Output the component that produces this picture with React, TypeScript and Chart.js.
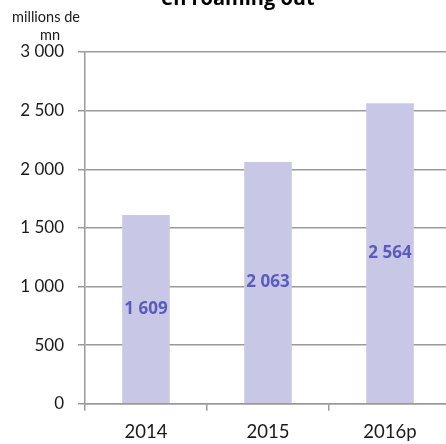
import React, { useEffect, useRef } from "react";
import { Chart, registerables } from "chart.js";

Chart.register(...registerables);

const categories = ["2014", "2015", "2016p"];
const values = [1609, 2063, 2564];
const yMin = 0;
const yMax = 3000;
const yStep = 500;
const titleText = "en roaming out";
const yTitleLines = ["millions de", "mn"];

const fmt = (v: number) => String(v).replace(/\B(?=(\d{3})+(?!\d))/g, " ");

const FONT = "Lato, 'Open Sans', sans-serif";
const BOLD_FONT = "'Open Sans', sans-serif";

export default function App() {
  const ref = useRef<HTMLCanvasElement | null>(null);
  useEffect(() => {
    if (!ref.current) return;
    const labelsPlugin = {
      id: "customText",
      afterDatasetsDraw(chart: any) {
        const ctx = chart.ctx;
        ctx.save();
        const meta = chart.getDatasetMeta(0);
        ctx.fillStyle = "#5a5abf";
        ctx.font = `bold 17px ${BOLD_FONT}`;
        ctx.textAlign = "center";
        ctx.textBaseline = "middle";
        meta.data.forEach((el: any, i: number) => {
          const y = (el.y + el.base) / 2;
          ctx.fillText(fmt(values[i]), el.x, y);
        });
        ctx.restore();
      },
      afterDraw(chart: any) {
        const ctx = chart.ctx;
        ctx.save();
        ctx.fillStyle = "#000";
        ctx.font = `bold 20px ${BOLD_FONT}`;
        ctx.textAlign = "center";
        ctx.textBaseline = "alphabetic";
        ctx.fillText(titleText, 238, 5);
        ctx.font = `14.5px ${FONT}`;
        ctx.fillStyle = "#1a1a1a";
        ctx.textBaseline = "middle";
        ctx.fillText(yTitleLines[0], 46, 17);
        ctx.fillText(yTitleLines[1], 50, 35);
        ctx.restore();
      },
    };
    const chart = new Chart(ref.current, {
      type: "bar",
      data: {
        labels: categories,
        datasets: [
          {
            data: values,
            backgroundColor: "#c8c8e6",
            borderWidth: 0,
            barPercentage: 0.39,
            categoryPercentage: 1,
          },
        ],
      },
      options: {
        responsive: false,
        animation: false,
        layout: { padding: { top: 52, left: 0, right: 1, bottom: 0 } },
        plugins: {
          legend: { display: false },
          title: { display: false },
          tooltip: { enabled: false },
        },
        scales: {
          x: {
            offset: true,
            grid: {
              display: true,
              drawOnChartArea: false,
              drawTicks: true,
              tickLength: 7,
              offset: true,
              color: "#9a9a9a",
              lineWidth: 1.5,
            },
            border: { display: true, color: "#9a9a9a", width: 1.5 },
            ticks: {
              color: "#1a1a1a",
              font: { family: FONT, size: 18.5 },
              padding: 10,
            },
          },
          y: {
            min: yMin,
            max: yMax,
            afterFit(scale: any) {
              scale.width = 85;
            },
            grid: {
              color: "#9a9a9a",
              lineWidth: 1.5,
              drawTicks: true,
              tickLength: 7,
            },
            border: { display: true, color: "#9a9a9a", width: 1.5 },
            ticks: {
              stepSize: yStep,
              color: "#1a1a1a",
              font: { family: FONT, size: 17 },
              padding: 14,
              callback: (v: any) => fmt(Number(v)),
            },
          },
        },
      },
      plugins: [labelsPlugin],
    });
    return () => chart.destroy();
  }, []);
  return (
    <div
      style={{
        position: "fixed",
        top: 0,
        left: 0,
        width: 446,
        height: 444,
        overflow: "hidden",
        background: "#fff",
      }}
    >
      <canvas ref={ref} width={452} height={453} style={{ display: "block" }} />
    </div>
  );
}
